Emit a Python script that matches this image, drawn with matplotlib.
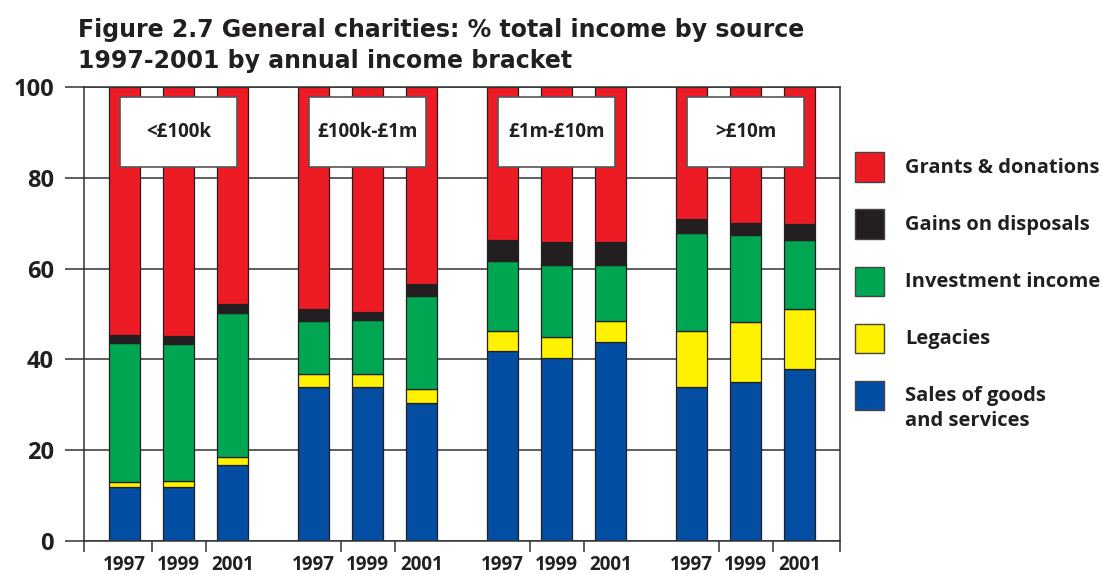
import numpy as np
import matplotlib.pyplot as plt
from matplotlib.patches import Rectangle

plt.rcParams['font.family'] = ['Open Sans', 'DejaVu Sans']
plt.rcParams['font.weight'] = 'bold'

W, H = 1102, 574
INK = "#231F20"

brackets = ["<£100k", "£100k-£1m", "£1m-£10m", ">£10m"]
years = ["1997", "1999", "2001"]

# % of total income, one value per bar (bracket by bracket, years within)
sales = [11.8, 11.8, 16.7, 34.0, 34.0, 30.3, 41.9, 40.2, 43.8, 34.0, 35.1, 37.9]
legacies = [1.3, 1.4, 1.7, 2.8, 2.8, 3.1, 4.4, 4.7, 4.6, 12.3, 13.1, 13.1]
investment = [30.5, 30.2, 31.9, 11.7, 11.9, 20.6, 15.4, 15.9, 12.4, 21.5, 19.2, 15.3]
gains = [1.8, 1.8, 1.9, 2.7, 1.8, 2.6, 4.7, 5.0, 5.0, 3.1, 2.6, 3.5]
grants = [54.6, 54.8, 47.8, 48.8, 49.5, 43.4, 33.6, 34.2, 34.2, 29.1, 30.0, 30.2]

series = [
  ("Sales of goods\nand services", sales, "#034EA2"),
  ("Legacies", legacies, "#FFF200"),
  ("Investment income", investment, "#00A651"),
  ("Gains on disposals", gains, INK),
  ("Grants & donations", grants, "#ED1C24"),
]

gap = 3.5
x = np.array([g * gap + j for g in range(len(brackets)) for j in range(len(years))], dtype=float)
xlabels = years * len(brackets)

fig = plt.figure(figsize=(W / 100, H / 100), dpi=100)
ax = fig.add_axes([84 / W, 1 - 541 / H, (840 - 84) / W, (541 - 87) / H])

bottom = np.zeros(len(x))
for name, vals, color in series:
  vals = np.array(vals)
  ax.bar(x, vals, bottom=bottom, width=0.57, color=color,
         edgecolor=INK, linewidth=0.9, zorder=3)
  bottom += vals

ax.set_xlim(-0.75, x[-1] + 0.75)
ax.set_ylim(0, 100)

# y axis: grid + outward ticks
ax.set_yticks(np.arange(0, 101, 20))
ax.yaxis.grid(True, color="#333333", linewidth=1.1, zorder=1)
ax.tick_params(axis="y", direction="out", length=13.7, width=1.1, color="#333333",
               labelsize=17, pad=8, labelcolor=INK)

# x axis: year labels under bars, separator ticks between them
ax.set_xticks(x)
ax.set_xticklabels(xlabels)
ax.tick_params(axis="x", which="major", length=0, labelsize=13.5, pad=10, labelcolor=INK)
seps = [-0.75] + [g * gap + k + 0.5 for g in range(len(brackets)) for k in range(2)] + [x[-1] + 0.75]
ax.set_xticks(seps, minor=True)
ax.tick_params(axis="x", which="minor", direction="out", length=8, width=1.1, color="#333333")
ax.set_axisbelow(True)

for sp in ax.spines.values():
  sp.set_color("#333333")
  sp.set_linewidth(1.1)
  sp.set_zorder(4)

# bracket name boxes over the middle bar of each group
for g, name in enumerate(brackets):
  mid = g * gap + 1
  ax.add_patch(Rectangle((mid - 1.09, 82.4), 2.18, 15.4, facecolor="white",
                         edgecolor="#555555", linewidth=1.2, zorder=5))
  ax.text(mid, 90.1, name, ha="center", va="center", fontsize=13.5,
          color=INK, zorder=6)

# legend, top entry first; text baseline of first line sits level with the swatch
for i, (name, vals, color) in enumerate(series[::-1]):
  cy = 167 + i * 57
  fig.add_artist(Rectangle((855 / W, 1 - (cy + 14.5) / H), 29 / W, 29 / H,
                           transform=fig.transFigure, facecolor=color,
                           edgecolor="#444444", linewidth=1.0))
  for k, line in enumerate(name.split("\n")):
    fig.text(905 / W, 1 - (cy + 6 + 25 * k) / H, line, fontsize=14.5, color=INK,
             va="baseline", ha="left")

title_font = dict(family="DejaVu Sans", fontsize=17, fontweight="bold", color=INK,
                  va="baseline")
fig.text(78 / W, 1 - 37 / H, "Figure 2.7 General charities: % total income by source", **title_font)
fig.text(78 / W, 1 - 68 / H, "1997-2001 by annual income bracket", **title_font)

fig.savefig("out.png", dpi=100)
